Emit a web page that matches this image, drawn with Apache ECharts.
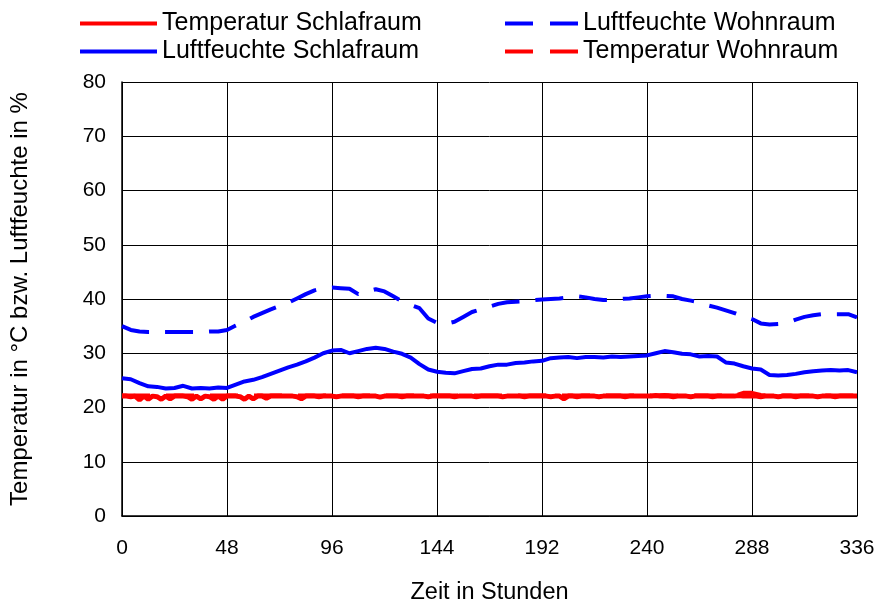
<!DOCTYPE html>
<html>
<head>
<meta charset="utf-8">
<script src="https://cdn.jsdelivr.net/npm/echarts@6/dist/echarts.min.js"></script>
<style>
  html, body { margin: 0; padding: 0; background: #fff; }
  #chart { width: 877px; height: 607px; }
</style>
</head>
<body>
<div id="chart"></div>
<script>
// Stunden (4h Raster fuer Feuchte / Wohnraum, 2h Raster fuer Temperatur Schlafraum)
var hours4 = [];
for (var i = 0; i <= 336; i += 4) hours4.push(i);
var hours2 = [];
for (var j = 0; j <= 336; j += 2) hours2.push(j);

var xTicks = [0, 48, 96, 144, 192, 240, 288, 336];
var yTicks = [0, 10, 20, 30, 40, 50, 60, 70, 80];

var feuchteSchlafraum = [
  25.4, 25.2, 24.5, 23.9, 23.8, 23.5, 23.6, 24.0, 23.5, 23.6,
  23.5, 23.7, 23.6, 24.2, 24.8, 25.1, 25.6, 26.2, 26.8, 27.4,
  27.9, 28.5, 29.2, 30.0, 30.5, 30.6, 30.0, 30.4, 30.8, 31.0,
  30.8, 30.3, 29.9, 29.2, 28.0, 27.0, 26.6, 26.4, 26.3, 26.7,
  27.1, 27.2, 27.6, 27.9, 27.9, 28.2, 28.3, 28.5, 28.6, 29.1,
  29.2, 29.3, 29.1, 29.3, 29.3, 29.2, 29.4, 29.3, 29.4, 29.5,
  29.6, 30.0, 30.4, 30.2, 29.9, 29.8, 29.4, 29.5, 29.4, 28.3,
  28.1, 27.6, 27.2, 27.0, 26.0, 25.9, 26.0, 26.2, 26.5, 26.7,
  26.8, 26.9, 26.8, 26.9, 26.5
];

var feuchteWohnraum = [
  35.0, 34.3, 34.0, 33.9, 33.9, 33.9, 33.9, 33.9, 33.9, 33.9,
  34.0, 34.0, 34.3, 35.1, 35.8, 36.7, 37.4, 38.1, 38.7, 39.3,
  40.1, 40.9, 41.6, 42.0, 42.1, 42.0, 41.9, 40.9, 41.4, 41.8,
  41.4, 40.5, 39.6, 38.9, 38.3, 36.4, 35.6, 35.4, 35.8, 36.7,
  37.6, 38.1, 38.6, 39.1, 39.4, 39.5, 39.6, 39.8, 39.9, 40.0,
  40.1, 40.3, 40.5, 40.3, 40.0, 39.8, 39.8, 40.0, 40.1, 40.3,
  40.5, 40.6, 40.6, 40.5, 40.0, 39.7, 39.4, 38.8, 38.4, 37.9,
  37.4, 36.8, 36.3, 35.5, 35.3, 35.4, 35.6, 36.2, 36.7, 37.0,
  37.2, 37.2, 37.2, 37.2, 36.6
];

var tempWohnraum = [
  22.2, 22.2, 22.2, 22.2, 22.2, 22.2, 22.2, 22.2, 22.2, 22.2,
  22.2, 22.2, 22.2, 22.2, 22.2, 22.2, 22.2, 22.2, 22.2, 22.2,
  22.2, 22.2, 22.2, 22.2, 22.2, 22.2, 22.2, 22.2, 22.2, 22.2,
  22.2, 22.2, 22.2, 22.2, 22.2, 22.2, 22.2, 22.2, 22.2, 22.2,
  22.2, 22.2, 22.2, 22.2, 22.2, 22.2, 22.2, 22.2, 22.2, 22.2,
  22.2, 22.2, 22.2, 22.2, 22.2, 22.2, 22.2, 22.2, 22.2, 22.2,
  22.2, 22.2, 22.3, 22.2, 22.2, 22.2, 22.2, 22.2, 22.2, 22.2,
  22.2, 22.7, 22.7, 22.3, 22.2, 22.2, 22.2, 22.2, 22.2, 22.2,
  22.2, 22.2, 22.2, 22.2, 22.2
];

var tempSchlafraum = [
  22.1, 22.1, 22.0, 22.1, 21.4, 22.1, 21.5, 22.1, 22.0, 21.5,
  22.1, 21.6, 22.1, 22.1, 22.1, 22.0, 21.5, 22.1, 21.6, 22.1,
  22.0, 21.5, 22.1, 21.5, 22.1, 22.1, 22.1, 22.0, 21.5, 22.1,
  21.6, 22.1, 22.1, 21.7, 22.1, 22.1, 22.1, 22.1, 22.1, 22.1,
  22.0, 21.6, 22.1, 22.1, 22.1, 22.0, 22.1, 22.1, 22.1, 22.0,
  22.1, 22.1, 22.1, 22.1, 22.0, 22.1, 22.1, 22.1, 22.1, 21.9,
  22.1, 22.1, 22.1, 22.1, 22.0, 22.1, 22.1, 22.1, 22.1, 22.1,
  22.0, 22.1, 22.1, 22.1, 22.1, 22.1, 22.0, 22.1, 22.1, 22.1,
  22.1, 22.0, 22.1, 22.1, 22.1, 22.1, 22.1, 22.0, 22.1, 22.1,
  22.1, 22.1, 22.0, 22.1, 22.1, 22.1, 22.1, 22.1, 22.0, 22.1,
  22.1, 21.6, 22.1, 22.1, 22.0, 22.1, 22.1, 22.1, 22.1, 22.0,
  22.1, 22.1, 22.1, 22.1, 22.1, 22.0, 22.1, 22.1, 22.1, 22.1,
  22.1, 22.1, 22.2, 22.1, 22.1, 22.1, 22.0, 22.1, 22.1, 22.1,
  22.0, 22.1, 22.1, 22.1, 22.1, 22.0, 22.1, 22.1, 22.1, 22.1,
  22.1, 22.2, 22.1, 22.1, 22.1, 22.1, 22.0, 22.1, 22.1, 22.1,
  22.0, 22.1, 22.1, 22.1, 22.0, 22.1, 22.1, 22.1, 22.1, 22.0,
  22.1, 22.1, 22.1, 22.0, 22.1, 22.1, 22.1, 22.1, 22.1
];

function pairs(xs, ys) {
  return xs.map(function (x, k) { return [x, ys[k]]; });
}

var font = '"Liberation Sans", Arial, sans-serif';
// Legenden-Symbole: durchgezogene bzw. gestrichelte Linie
var iconSolid = 'path://M0,0H77V4H0Z';
var iconDash = 'path://M0,0H28V4H0Z M45,0H73V4H45Z';

var chart = echarts.init(document.getElementById('chart'));
chart.setOption({
  animation: false,
  backgroundColor: '#fff',
  textStyle: { fontFamily: font, color: '#000' },
  grid: { left: 122, right: 20, top: 82, bottom: 91, containLabel: false, outerBoundsMode: 'none' },
  legend: [{
    orient: 'vertical',
    left: 75, top: 6,
    itemWidth: 77, itemHeight: 4, itemGap: 3,
    textStyle: { fontSize: 25, color: '#000', fontFamily: font },
    data: [
      { name: 'Temperatur Schlafraum', icon: iconSolid },
      { name: 'Luftfeuchte Schlafraum', icon: iconSolid }
    ]
  }, {
    orient: 'vertical',
    left: 500, top: 6,
    itemWidth: 73, itemHeight: 4, itemGap: 3,
    textStyle: { fontSize: 25, color: '#000', fontFamily: font },
    data: [
      { name: 'Luftfeuchte Wohnraum', icon: iconDash },
      { name: 'Temperatur Wohnraum', icon: iconDash }
    ]
  }],
  xAxis: {
    type: 'value',
    min: xTicks[0], max: xTicks[xTicks.length - 1], interval: 48,
    name: 'Zeit in Stunden',
    nameLocation: 'middle', nameGap: 65,
    nameTextStyle: { fontSize: 23.5, color: '#000', fontFamily: font },
    axisLine: { lineStyle: { color: '#000', width: 1.5 } },
    axisTick: { show: false },
    axisLabel: { fontSize: 21, color: '#000', margin: 22, fontFamily: font },
    splitLine: { show: true, lineStyle: { color: '#000', width: 1 } }
  },
  yAxis: {
    type: 'value',
    min: yTicks[0], max: yTicks[yTicks.length - 1], interval: 10,
    name: 'Temperatur in °C bzw. Luftfeuchte in %',
    nameLocation: 'middle', nameGap: 90,
    nameTextStyle: { fontSize: 24, color: '#000', fontFamily: font },
    axisLine: { show: true, lineStyle: { color: '#000', width: 1.5 } },
    axisTick: { show: false },
    axisLabel: { fontSize: 21, color: '#000', margin: 16, fontFamily: font },
    splitLine: { show: true, lineStyle: { color: '#000', width: 1 } }
  },
  series: [{
    name: 'Temperatur Wohnraum',
    type: 'line', symbol: 'none',
    lineStyle: { color: '#ff0000', width: 4, type: [28, 16] },
    itemStyle: { color: '#ff0000' },
    data: pairs(hours4, tempWohnraum)
  }, {
    name: 'Temperatur Schlafraum',
    type: 'line', symbol: 'none',
    lineStyle: { color: '#ff0000', width: 5 },
    itemStyle: { color: '#ff0000' },
    data: pairs(hours2, tempSchlafraum)
  }, {
    name: 'Luftfeuchte Schlafraum',
    type: 'line', symbol: 'none',
    lineStyle: { color: '#0000ff', width: 4 },
    itemStyle: { color: '#0000ff' },
    data: pairs(hours4, feuchteSchlafraum)
  }, {
    name: 'Luftfeuchte Wohnraum',
    type: 'line', symbol: 'none',
    lineStyle: { color: '#0000ff', width: 4, type: [28, 16] },
    itemStyle: { color: '#0000ff' },
    data: pairs(hours4, feuchteWohnraum)
  }]
});
</script>
</body>
</html>
